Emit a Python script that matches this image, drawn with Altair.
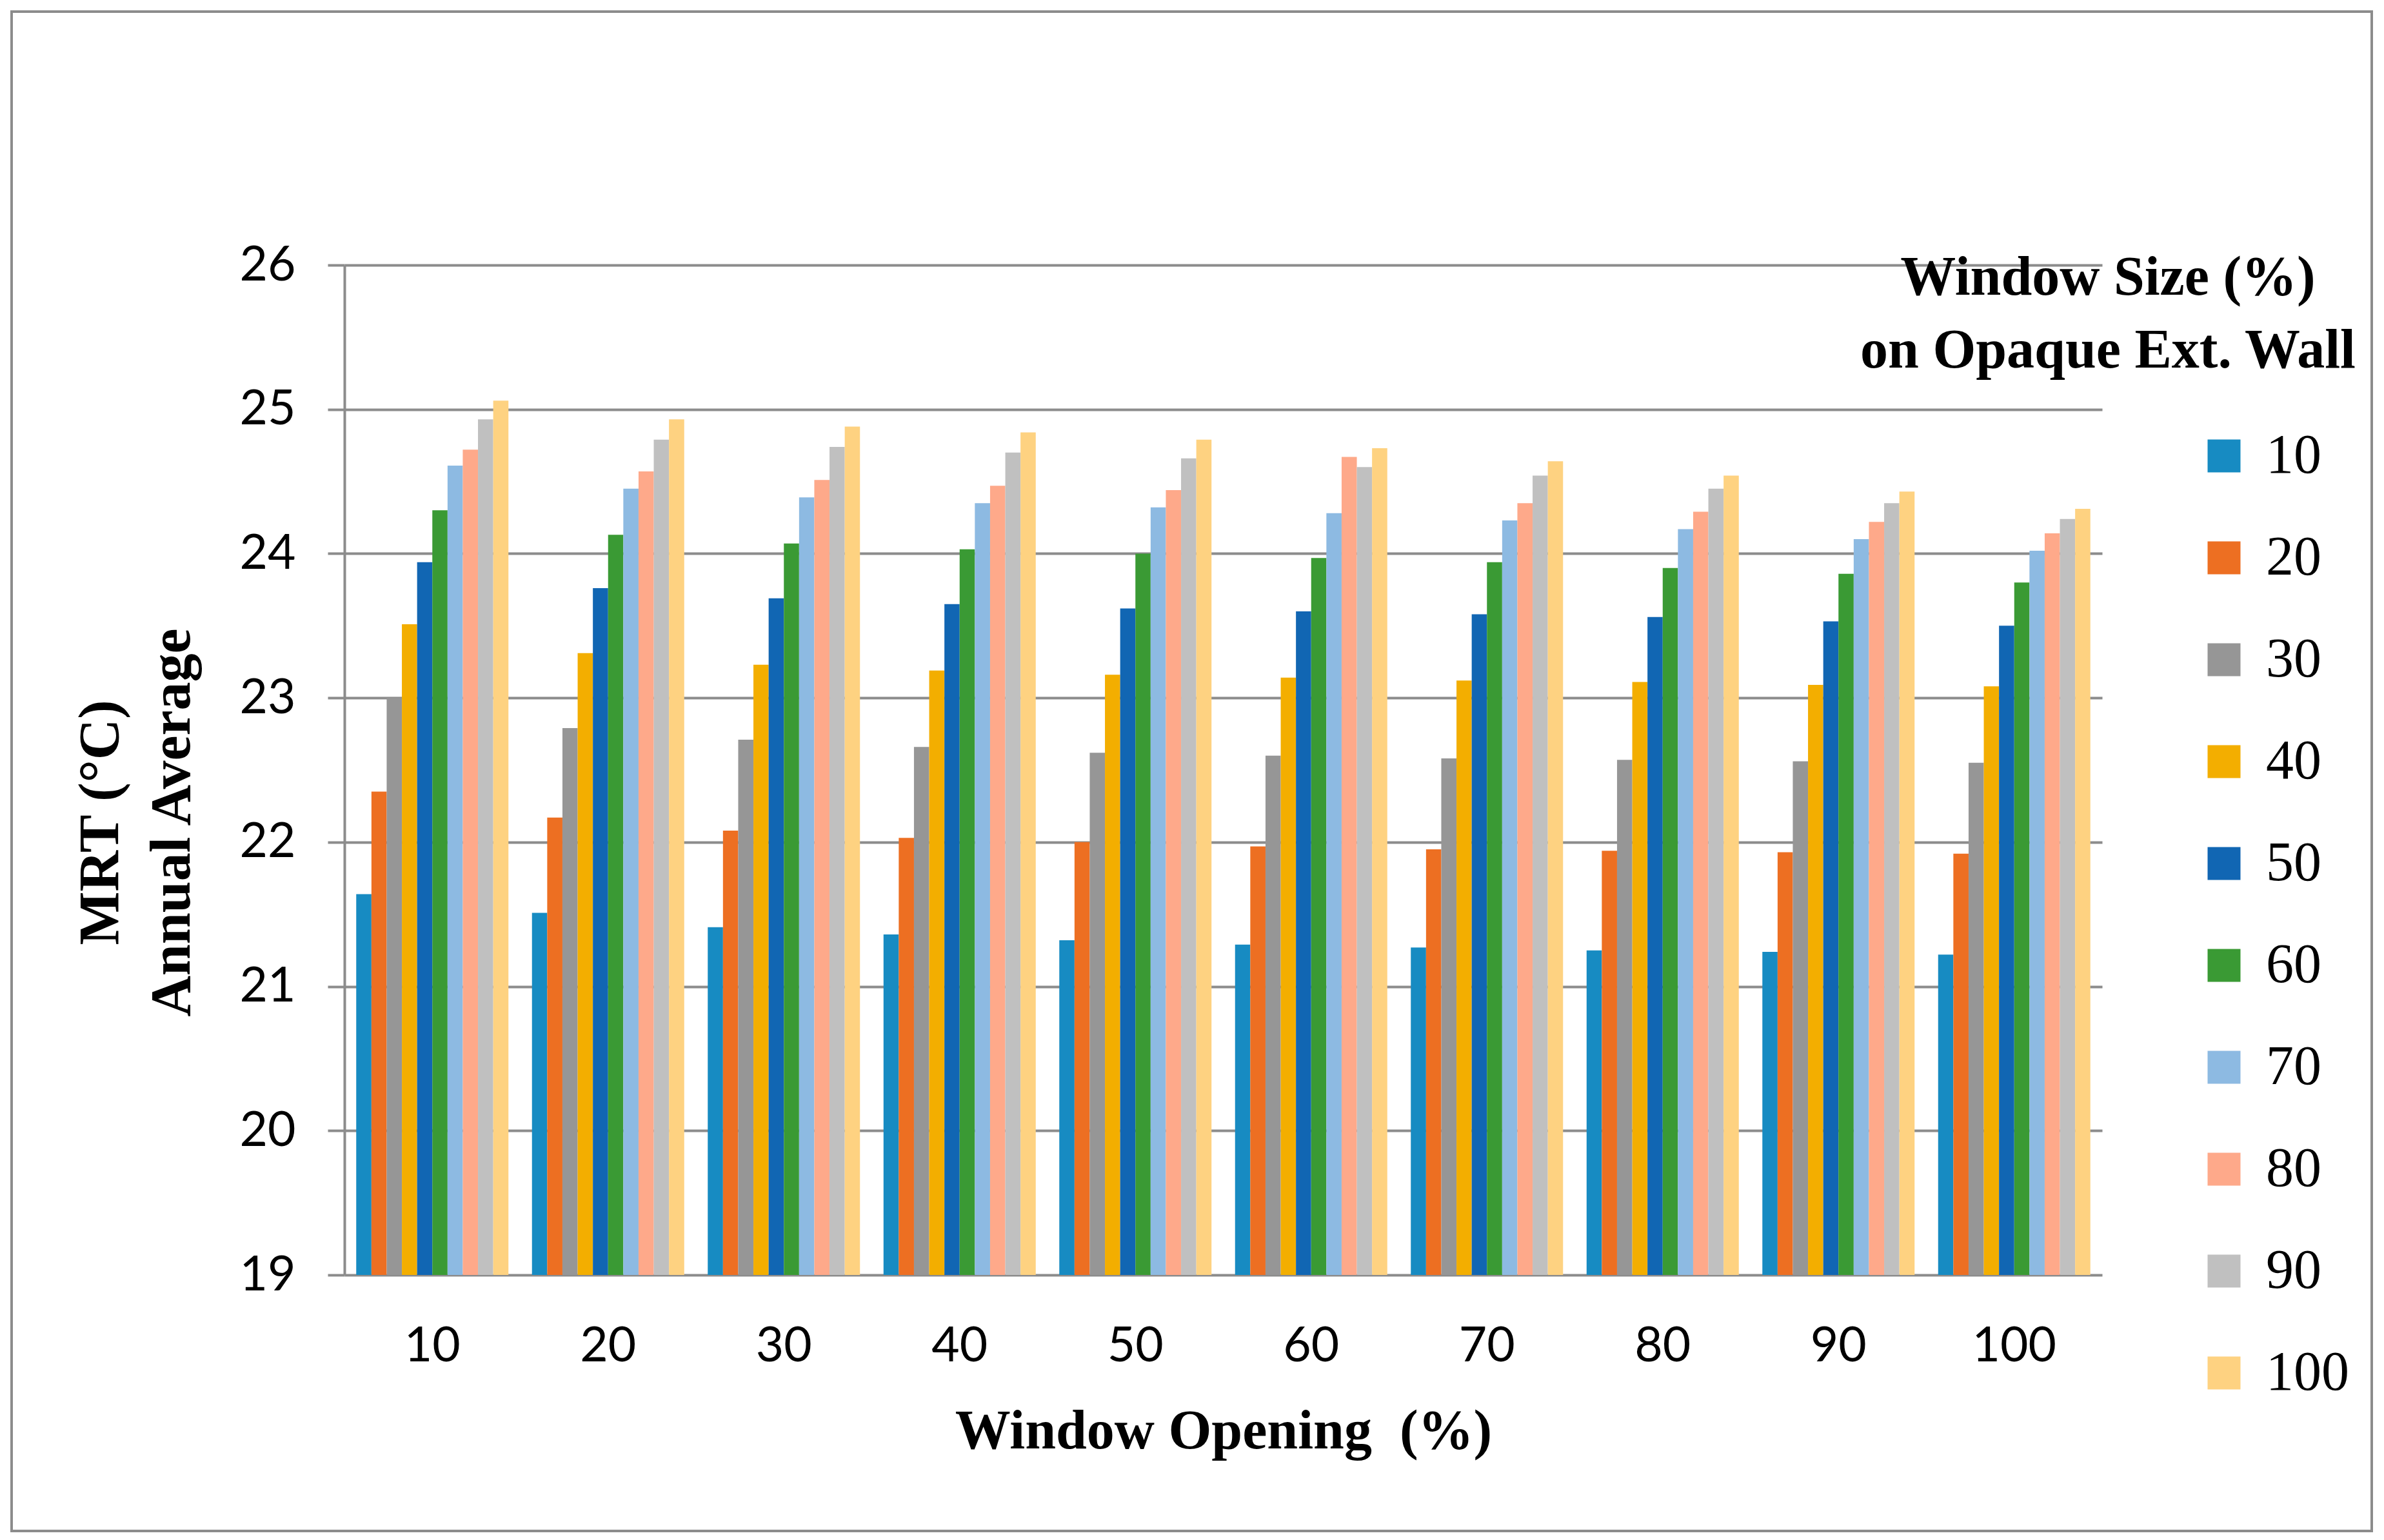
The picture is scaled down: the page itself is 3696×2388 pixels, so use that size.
import altair as alt
import pandas as pd

openings = [10, 20, 30, 40, 50, 60, 70, 80, 90, 100]
sizes = [10, 20, 30, 40, 50, 60, 70, 80, 90, 100]
colors = ["#178bc2", "#ed6f22", "#969696", "#f3ae00", "#1166b3",
          "#3a9a34", "#8dbae2", "#fea98a", "#c0c0c0", "#fed281"]

# MRT annual average per window size (one list per size, over openings 10..100)
size10 = [21.64, 21.51, 21.41, 21.36, 21.32, 21.29, 21.27, 21.25, 21.24, 21.22]
size20 = [22.35, 22.17, 22.08, 22.03, 22.00, 21.97, 21.95, 21.94, 21.93, 21.92]
size30 = [23.00, 22.79, 22.71, 22.66, 22.62, 22.60, 22.58, 22.57, 22.56, 22.55]
size40 = [23.51, 23.31, 23.23, 23.19, 23.16, 23.14, 23.12, 23.11, 23.09, 23.08]
size50 = [23.94, 23.76, 23.69, 23.65, 23.62, 23.60, 23.58, 23.56, 23.53, 23.50]
size60 = [24.30, 24.13, 24.07, 24.03, 24.00, 23.97, 23.94, 23.90, 23.86, 23.80]
size70 = [24.61, 24.45, 24.39, 24.35, 24.32, 24.28, 24.23, 24.17, 24.10, 24.02]
size80 = [24.72, 24.57, 24.51, 24.47, 24.44, 24.67, 24.35, 24.29, 24.22, 24.14]
size90 = [24.93, 24.79, 24.74, 24.70, 24.66, 24.60, 24.54, 24.45, 24.35, 24.24]
size100 = [25.06, 24.93, 24.88, 24.84, 24.79, 24.73, 24.64, 24.54, 24.43, 24.31]

y_ticks = [19, 20, 21, 22, 23, 24, 25, 26]
legend_title = ["Window Size (%)", "on Opaque Ext. Wall"]
x_title = "Window Opening\u00a0 (%)"
y_title = ["MRT (°C)", "Annual Average"]

series = [size10, size20, size30, size40, size50, size60, size70, size80, size90, size100]
rows = []
for s, vals in zip(sizes, series):
    for o, v in zip(openings, vals):
        rows.append({"opening": o, "size": s, "mrt": v})
df = pd.DataFrame(rows)

W, H = 2725, 1566
GRID = "#8c8c8c"
SERIF = "Liberation Serif"
SANS = "Lato"

bars = alt.Chart(df).mark_bar().encode(
    x=alt.X("opening:O", sort=openings,
            scale=alt.Scale(paddingInner=0.134, paddingOuter=0.067),
            axis=alt.Axis(title=x_title, labelAngle=0, domain=False,
                          ticks=False, grid=False, labelFont=SANS, labelFontSize=75,
                          labelColor="#000", labelPadding=74, titleFont=SERIF,
                          titleFontWeight="bold", titleFontSize=86, titleColor="#000",
                          titleBaseline="alphabetic", titleY=268)),
    xOffset=alt.XOffset("size:O", sort=sizes),
    y=alt.Y("mrt:Q", scale=alt.Scale(domain=[19, 26], zero=False, nice=False),
            axis=alt.Axis(title=y_title, values=y_ticks,
                          format="d", grid=True, gridColor=GRID, gridWidth=4,
                          domain=True, domainColor=GRID, domainWidth=4,
                          ticks=True, tickColor=GRID, tickWidth=4, tickSize=26,
                          labelFont=SANS, labelFontSize=75, labelColor="#000", labelPadding=50,
                          titleFont=SERIF, titleFontWeight="bold", titleFontSize=88,
                          titleColor="#000", titleAngle=270, titleBaseline="alphabetic",
                          titleAlign="center", titleLineHeight=111,
                          titleX=-352, titleY=864)),
    y2=alt.datum(19),
    color=alt.Color("size:O", sort=sizes,
                    scale=alt.Scale(domain=sizes, range=colors),
                    legend=alt.Legend(title=None, padding=0,
                                      orient="none", legendX=2871, legendY=253,
                                      symbolType="square", symbolSize=2601,
                                      symbolStrokeWidth=0, labelFont=SERIF,
                                      labelFontSize=86, labelColor="#000", labelLimit=500,
                                      labelOffset=22, rowPadding=72)),
)

legend_head = alt.Chart(pd.DataFrame({"k": [0]})).mark_text(
    font=SERIF, fontWeight="bold", fontSize=86, lineHeight=113,
    align="center", baseline="alphabetic", color="#000"
).encode(x=alt.value(2734), y=alt.value(46), text=alt.value(legend_title))

frame = alt.Chart(pd.DataFrame({"k": [0]})).mark_rect(
    fill=None, stroke="#8c8c8c", strokeWidth=4
).encode(x=alt.value(-516), x2=alt.value(W + 418), y=alt.value(-393), y2=alt.value(H + 397))

chart = alt.layer(bars, legend_head, frame).properties(
    width=W, height=H,
    autosize=alt.AutoSizeParams(type="none"),
    padding={"left": 526, "top": 403, "right": 425, "bottom": 400},
    background="white",
).configure_view(stroke=None)

chart.save("out.html", embed_options={"renderer": "svg", "actions": False})
